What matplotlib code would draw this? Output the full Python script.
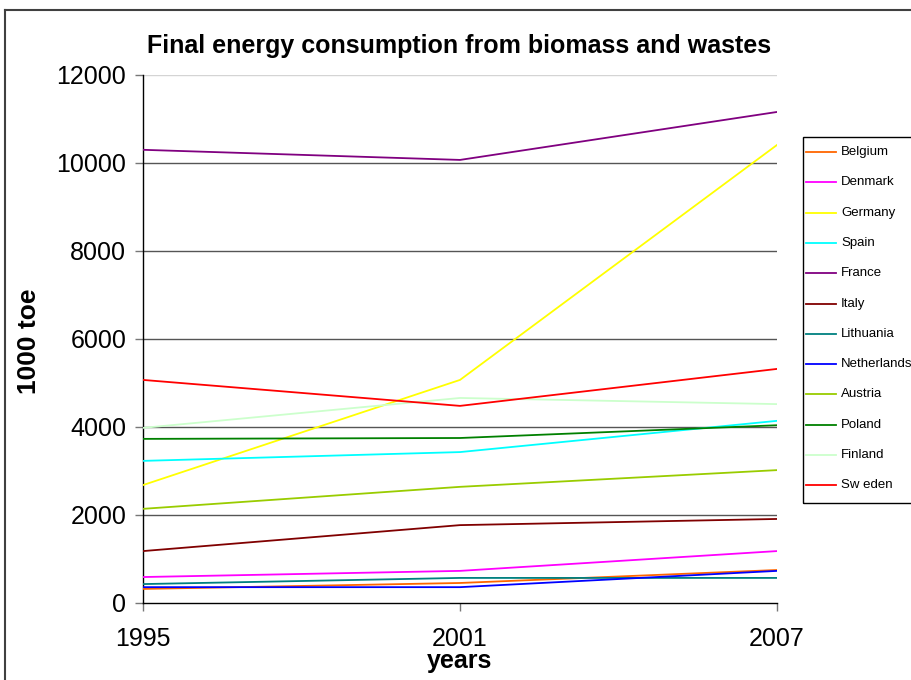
import matplotlib
matplotlib.use("Agg")
import matplotlib.pyplot as plt
from matplotlib.lines import Line2D
from matplotlib.patches import Rectangle

plt.rcParams['font.family'] = ['Liberation Sans', 'DejaVu Sans']

years = [1995, 2001, 2007]
countries = ["Belgium", "Denmark", "Germany", "Spain", "France", "Italy",
             "Lithuania", "Netherlands", "Austria", "Poland", "Finland", "Sw eden"]
belgium = [320, 455, 750]
denmark = [590, 730, 1180]
germany = [2680, 5070, 10410]
spain = [3230, 3430, 4140]
france = [10300, 10070, 11160]
italy = [1180, 1770, 1910]
lithuania = [430, 570, 570]
netherlands = [360, 360, 730]
austria = [2140, 2640, 3020]
poland = [3730, 3750, 4040]
finland = [3980, 4660, 4520]
sweden = [5070, 4480, 5320]
series = [belgium, denmark, germany, spain, france, italy,
          lithuania, netherlands, austria, poland, finland, sweden]
colors = ["#FF6600", "#FF00FF", "#FFFF00", "#00FFFF", "#800080", "#800000",
          "#008080", "#0000FF", "#99CC00", "#008000", "#CCFFCC", "#FF0000"]
y_ticks = [0, 2000, 4000, 6000, 8000, 10000, 12000]

W, H = 911, 680
fig = plt.figure(figsize=(W / 100, H / 100), dpi=100)
ax = fig.add_axes([143/W, 1-603/H, (777-143)/W, (603-75)/H])

# horizontal gridlines: dark for inner values, light at the top
for v in y_ticks[1:-1]:
    ax.axhline(v, color="#555555", lw=1.0, zorder=1)
ax.axhline(y_ticks[-1], color="#d4d4d4", lw=1.0, zorder=1)

for name, vals, c in zip(countries, series, colors):
    ax.plot(years, vals, color=c, lw=1.3, label=name, zorder=3)

ax.set_xlim(1995, 2007)
ax.set_ylim(0, 12000)
ax.set_xticks(years)
ax.set_yticks(y_ticks)
ax.tick_params(axis='both', direction='out', length=6, width=1, color="#777777",
               labelsize=18)
ax.tick_params(axis='y', pad=6)
ax.tick_params(axis='x', pad=11)
for s in ["top", "right"]:
    ax.spines[s].set_visible(False)
for s in ["left", "bottom"]:
    ax.spines[s].set_color("black")
    ax.spines[s].set_linewidth(1.0)

# axis titles and chart title
fig.text(29/W, 1-341/H, "1000 toe", rotation=90, ha="center", va="center",
         fontsize=19, fontweight="bold")
fig.text(460/W, 1-668/H, "years", ha="center", va="baseline",
         fontsize=18, fontweight="bold")
fig.text(459/W, 1-46/H, "Final energy consumption from biomass and wastes",
         ha="center", va="center", fontsize=18, fontweight="bold")

# legend box drawn by hand
fig.add_artist(Rectangle((803/W, 1-503/H), (W + 5 - 803)/W, (503-137)/H,
                         transform=fig.transFigure, fill=False,
                         edgecolor="black", lw=1.0))
row_h = 30.3
for i, (name, c) in enumerate(zip(countries, colors)):
    yy = 1 - (152 + i * row_h) / H
    fig.add_artist(Line2D([806/W, 836/W], [yy, yy], color=c, lw=1.3,
                          transform=fig.transFigure))
    fig.text(841/W, yy, name, ha="left", va="center", fontsize=9.5)

# outer chart border
fig.add_artist(Line2D([5/W, 5/W], [0, 1-10/H], color="#404040", lw=1.5,
                      transform=fig.transFigure))
fig.add_artist(Line2D([5/W, 1], [1-10/H, 1-10/H], color="#404040", lw=1.5,
                      transform=fig.transFigure))

fig.savefig("out.png", dpi=100)
